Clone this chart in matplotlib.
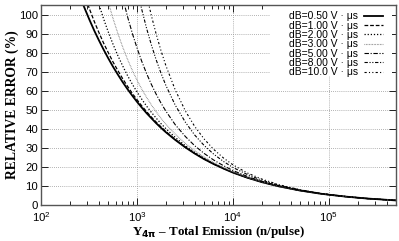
import numpy as np
import matplotlib
matplotlib.use("Agg")
import matplotlib.pyplot as plt
from matplotlib.patches import Rectangle

# Total emission (n/pulse)
emission = [250, 280, 320, 360, 400, 450, 500, 560, 630, 710, 800, 900, 1000, 1120,
            1260, 1410, 1580, 1780, 2000, 2500, 3200, 4000, 5000, 6300, 8000, 10000,
            14000, 20000, 30000, 50000, 80000, 100000, 150000, 250000, 500000]

labels = ["dB=0.50 V · μs", "dB=1.00 V · μs", "dB=2.00 V · μs", "dB=3.00 V · μs",
          "dB=5.00 V · μs", "dB=8.00 V · μs", "dB=10.0 V · μs"]

# relative error (%)
err_05 = [110.6, 104.2, 97.2, 91.4, 86.6, 81.5, 77.2, 72.8, 68.6, 64.5, 60.7, 57.2, 54.2, 51.2,
          48.2, 45.6, 43.0, 40.5, 38.2, 34.2, 30.2, 27.0, 24.1, 21.5, 19.1, 17.0,
          14.4, 12.0, 9.8, 7.6, 6.0, 5.4, 4.4, 3.4, 2.4]
err_1 = [118.7, 111.1, 102.9, 96.2, 90.7, 84.9, 80.2, 75.3, 70.7, 66.3, 62.2, 58.4, 55.3, 52.1,
         49.0, 46.2, 43.6, 41.0, 38.6, 34.4, 30.4, 27.1, 24.2, 21.5, 19.1, 17.1,
         14.4, 12.1, 9.8, 7.6, 6.0, 5.4, 4.4, 3.4, 2.4]
err_2 = [147.0, 135.4, 123.2, 113.5, 105.6, 97.6, 91.1, 84.7, 78.6, 73.0, 67.8, 63.2, 59.4, 55.6,
         51.9, 48.7, 45.7, 42.7, 40.1, 35.5, 31.1, 27.6, 24.6, 21.8, 19.3, 17.2,
         14.5, 12.1, 9.9, 7.6, 6.0, 5.4, 4.4, 3.4, 2.4]
err_3 = [184.7, 168.2, 151.0, 137.5, 126.6, 115.7, 106.9, 98.3, 90.3, 82.9, 76.3, 70.4, 65.6, 60.9,
         56.5, 52.6, 49.0, 45.5, 42.4, 37.2, 32.3, 28.5, 25.2, 22.3, 19.6, 17.4,
         14.6, 12.2, 9.9, 7.7, 6.0, 5.4, 4.4, 3.4, 2.4]
err_5 = [272.2, 245.3, 217.3, 195.4, 177.9, 160.4, 146.4, 132.8, 120.2, 108.8, 98.6, 89.7, 82.5, 75.5,
         69.0, 63.4, 58.3, 53.5, 49.3, 42.2, 35.9, 31.1, 27.1, 23.6, 20.6, 18.1,
         15.1, 12.4, 10.1, 7.7, 6.1, 5.4, 4.4, 3.4, 2.4]
err_8 = [414.2, 371.4, 326.7, 291.9, 264.1, 236.3, 214.0, 192.5, 172.6, 154.7, 138.7, 124.8, 113.6, 102.8,
         92.7, 84.2, 76.4, 69.2, 62.8, 52.5, 43.4, 36.7, 31.3, 26.7, 22.8, 19.7,
         16.1, 13.0, 10.4, 7.9, 6.1, 5.5, 4.4, 3.4, 2.4]
err_10 = [511.5, 457.9, 402.1, 358.6, 323.9, 289.1, 261.3, 234.5, 209.7, 187.3, 167.4, 150.0, 136.1, 122.7,
          110.2, 99.6, 90.0, 81.0, 73.2, 60.5, 49.3, 41.2, 34.7, 29.2, 24.6, 21.1,
          16.9, 13.6, 10.7, 8.0, 6.2, 5.5, 4.5, 3.4, 2.4]

series = [err_05, err_1, err_2, err_3, err_5, err_8, err_10]
styles = [
    dict(color="black", lw=1.3, ls="-"),
    dict(color="black", lw=0.9, ls=(0, (3, 1.5))),
    dict(color="black", lw=0.9, ls=(0, (1, 1.5))),
    dict(color="#777777", lw=0.8, ls=(0, (0.6, 0.8))),
    dict(color="black", lw=0.8, ls=(0, (4, 1.5, 1, 1.5))),
    dict(color="black", lw=0.8, ls=(0, (3, 1.5, 1, 1.5, 1, 1.5))),
    dict(color="black", lw=0.8, ls=(0, (2, 2, 1, 2, 1, 2))),
]

plt.rcParams["font.family"] = ["Liberation Sans", "DejaVu Sans"]
plt.rcParams["mathtext.fontset"] = "custom"
plt.rcParams["mathtext.rm"] = "Liberation Sans"

fig = plt.figure(figsize=(3.99, 2.41), dpi=100)
ax = fig.add_axes([41 / 399, 36 / 241, 355 / 399, 200 / 241])

for vals, lab, st in zip(series, labels, styles):
    ax.plot(emission, vals, label=lab, **st)

ax.set_xscale("log")
ax.set_xlim(100, 5e5)
ax.set_ylim(0, 105)
ax.set_yticks(range(0, 101, 10))
ax.grid(True, which="major", color="#999999", ls=(0, (1, 1.5)), lw=0.6)
ax.tick_params(which="both", direction="in", top=True, right=True, labelsize=8.2)
ax.tick_params(axis="x", pad=4)
ax.tick_params(axis="y", pad=2)
ax.tick_params(which="major", length=5, width=0.6)
ax.tick_params(which="minor", length=3, width=0.6)
for sp in ax.spines.values():
    sp.set_color("#555555")
    sp.set_linewidth(1.0)

# white area behind the key (covers the grid)
ax.add_patch(Rectangle((0.645, 0.645), 0.344, 0.355, transform=ax.transAxes,
                       facecolor="white", edgecolor="none", zorder=1.6))

ax.set_ylabel("RELATIVE ERROR (%)", family="Liberation Serif", fontweight="bold", fontsize=9.8, labelpad=0)
ax.set_xlabel(r"Y$_{\mathbf{4\pi}}$ – Total Emission (n/pulse)", family="Liberation Serif",
              fontweight="bold", fontsize=9.4, labelpad=0)

leg = ax.legend(loc="upper right", bbox_to_anchor=(0.975, 0.99), frameon=False, fontsize=7.5,
                markerfirst=False, handlelength=1.8, handletextpad=0.6, labelspacing=-0.06,
                borderaxespad=0)

fig.savefig("out.png", dpi=100)
